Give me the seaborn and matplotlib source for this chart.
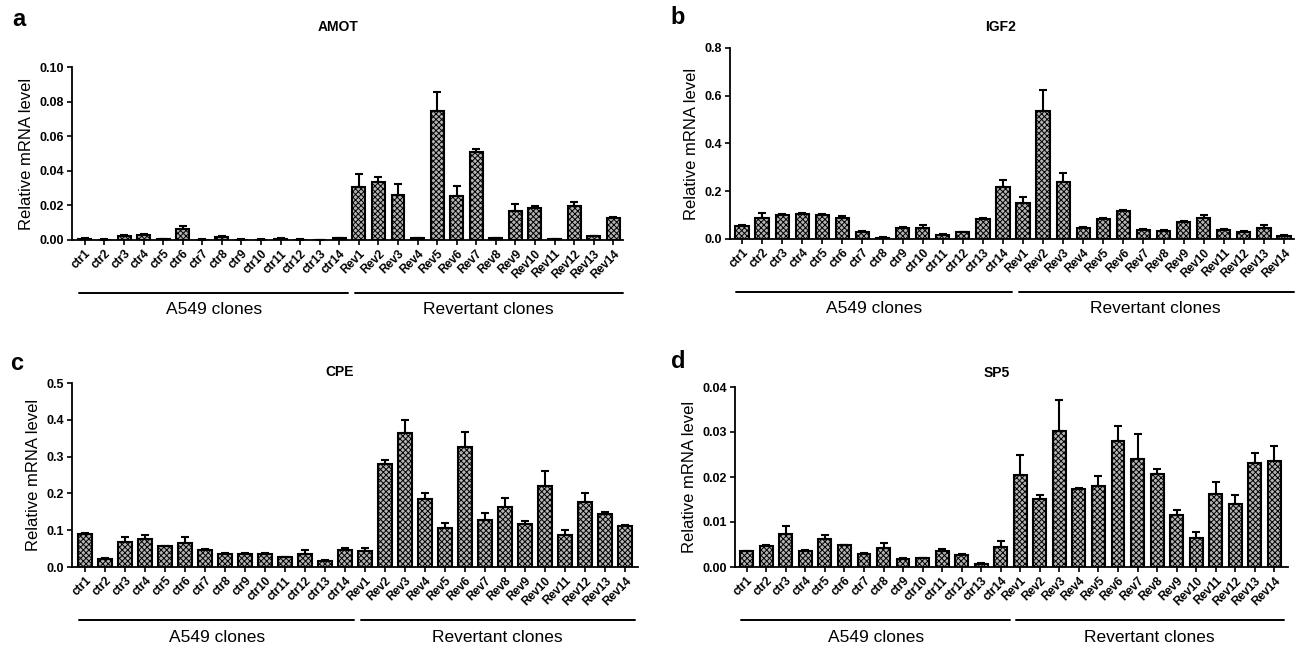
import matplotlib
matplotlib.use('Agg')
import matplotlib.pyplot as plt
import seaborn as sns
import numpy as np
import pandas as pd

sns.set_style('ticks')
plt.rcParams['font.family'] = ['Liberation Sans', 'DejaVu Sans']
plt.rcParams['hatch.linewidth'] = 0.7
plt.rcParams['text.color'] = 'black'
plt.rcParams['axes.labelcolor'] = 'black'
plt.rcParams['xtick.color'] = 'black'
plt.rcParams['ytick.color'] = 'black'

# clone labels
ctr_labels = ['ctr%d' % i for i in range(1, 15)]
rev_labels = ['Rev%d' % i for i in range(1, 15)]
clones = ctr_labels + rev_labels

# AMOT (mean, SEM)
amot_mean = [0.0008, 0.0002, 0.0022, 0.003, 0.0004, 0.0062, 0.0002, 0.002, 0.0002, 0.0002, 0.0007, 0.0002, 0.0001, 0.001,
             0.0308, 0.0337, 0.0263, 0.001, 0.0744, 0.0254, 0.0508, 0.001, 0.0167, 0.0183, 0.0003, 0.0198, 0.0022, 0.0128]
amot_err = [0.0002, 0.0001, 0.0005, 0.0005, 0.0001, 0.0018, 0.0001, 0.0004, 0.0001, 0.0001, 0.0002, 0.0001, 0.0001, 0.0003,
            0.0073, 0.0029, 0.0063, 0.0003, 0.0112, 0.006, 0.002, 0.0003, 0.004, 0.0013, 0.0001, 0.0019, 0.0004, 0.0004]

# IGF2
igf2_mean = [0.055, 0.087, 0.1, 0.103, 0.1, 0.087, 0.03, 0.005, 0.047, 0.047, 0.015, 0.028, 0.083, 0.217,
             0.15, 0.537, 0.238, 0.048, 0.085, 0.116, 0.038, 0.035, 0.073, 0.09, 0.038, 0.031, 0.048, 0.014]
igf2_err = [0.005, 0.02, 0.005, 0.005, 0.005, 0.01, 0.005, 0.002, 0.005, 0.01, 0.005, 0.003, 0.004, 0.03,
            0.028, 0.085, 0.04, 0.003, 0.005, 0.006, 0.003, 0.003, 0.004, 0.01, 0.005, 0.004, 0.01, 0.003]

# CPE
cpe_mean = [0.091, 0.023, 0.068, 0.075, 0.056, 0.065, 0.047, 0.034, 0.034, 0.036, 0.027, 0.036, 0.016, 0.045,
            0.043, 0.279, 0.364, 0.186, 0.105, 0.325, 0.129, 0.162, 0.118, 0.221, 0.086, 0.177, 0.145, 0.111]
cpe_err = [0.002, 0.002, 0.014, 0.012, 0.002, 0.016, 0.003, 0.003, 0.003, 0.002, 0.001, 0.01, 0.004, 0.006,
           0.009, 0.012, 0.036, 0.014, 0.014, 0.043, 0.018, 0.025, 0.006, 0.04, 0.014, 0.025, 0.005, 0.004]

# SP5
sp5_mean = [0.0035, 0.0047, 0.0074, 0.0036, 0.0062, 0.0048, 0.0029, 0.0042, 0.0018, 0.002, 0.0035, 0.0026, 0.0007, 0.0044,
            0.0204, 0.0151, 0.0303, 0.0173, 0.018, 0.0279, 0.0241, 0.0206, 0.0116, 0.0064, 0.0162, 0.014, 0.0232, 0.0235]
sp5_err = [0.0001, 0.0002, 0.0018, 0.0001, 0.001, 0.0002, 0.0002, 0.0011, 0.0001, 0.0001, 0.0005, 0.0002, 0.0002, 0.0013,
           0.0044, 0.0009, 0.0069, 0.0002, 0.0022, 0.0034, 0.0055, 0.0012, 0.001, 0.0013, 0.0027, 0.002, 0.0022, 0.0033]

W, H = 1296, 651
fig = plt.figure(figsize=(12.96, 6.51), dpi=100)


def px_axes(left, right, top, bottom):
    return fig.add_axes([left / W, 1 - bottom / H, (right - left) / W, (bottom - top) / H])


panels = [
    # name, letter, mean, err, ticks, fmt, axes px (l, r, top, bottom), xlim, title pos, letter pos
    ('AMOT', 'a', amot_mean, amot_err, np.arange(0, 0.101, 0.02), '%.2f', (72, 623, 67, 240), (-0.66, 27.5), (338, 27), (19, 19)),
    ('IGF2', 'b', igf2_mean, igf2_err, np.arange(0, 0.81, 0.2), '%.1f', (730, 1294, 48, 239), (-0.6, 27.5), (1000, 27), (678, 18)),
    ('CPE', 'c', cpe_mean, cpe_err, np.arange(0, 0.51, 0.1), '%.1f', (72, 638, 383, 567), (-0.65, 27.65), (340, 372), (17, 364)),
    ('SP5', 'd', sp5_mean, sp5_err, np.arange(0, 0.041, 0.01), '%.2f', (735, 1288, 387, 567), (-0.6, 27.7), (997, 373), (678, 362)),
]

for name, letter, mean, err, ticks, fmt, box, xlim, tpos, lpos in panels:
    ax = px_axes(*box)
    df = pd.DataFrame({'clone': clones, 'level': mean})
    sns.barplot(data=df, x='clone', y='level', ax=ax, color='#b4b4b4',
                edgecolor='black', linewidth=1.5, errorbar=None, width=0.66, saturation=1)
    for p in ax.patches:
        p.set_hatch('xxxxxx')
    x = np.arange(len(clones))
    ax.errorbar(x, mean, yerr=[np.zeros(len(err)), err], fmt='none', ecolor='black',
                elinewidth=1.5, capsize=3, capthick=1.5, zorder=3)

    ax.set_xlim(*xlim)
    ax.set_ylim(0, ticks[-1])
    ax.set_yticks(ticks)
    ax.set_yticklabels([fmt % t for t in ticks], fontweight='bold', fontsize=9)
    ax.set_xticks(x)
    ax.set_xticklabels(clones, rotation=45, ha='right', rotation_mode='anchor',
                       fontweight='bold', fontsize=8.5)
    ax.set_xlabel('')
    ax.set_ylabel('Relative mRNA level', fontsize=12, labelpad=4)
    sns.despine(ax=ax)
    for s in ['left', 'bottom']:
        ax.spines[s].set_linewidth(1.3)
        ax.spines[s].set_color('black')
    ax.tick_params(axis='both', length=3.5, width=1.2, color='black', pad=2)

    # group underlines and names
    trans = ax.get_xaxis_transform()
    h = box[3] - box[2]
    yline = -53 / h
    ytext = -70 / h
    ax.plot([-0.3, 13.45], [yline, yline], color='black', lw=1.4, transform=trans, clip_on=False)
    ax.plot([13.8, 27.5], [yline, yline], color='black', lw=1.4, transform=trans, clip_on=False)
    ax.text(6.6, ytext, 'A549 clones', transform=trans, ha='center', va='center', fontsize=12.5)
    ax.text(20.6, ytext, 'Revertant clones', transform=trans, ha='center', va='center', fontsize=12.5)

    fig.text(tpos[0] / W, 1 - tpos[1] / H, name, ha='center', va='center', fontsize=10, fontweight='bold')
    fig.text(lpos[0] / W, 1 - lpos[1] / H, letter, ha='center', va='center', fontsize=17, fontweight='bold')

fig.savefig('out.png', dpi=100)
